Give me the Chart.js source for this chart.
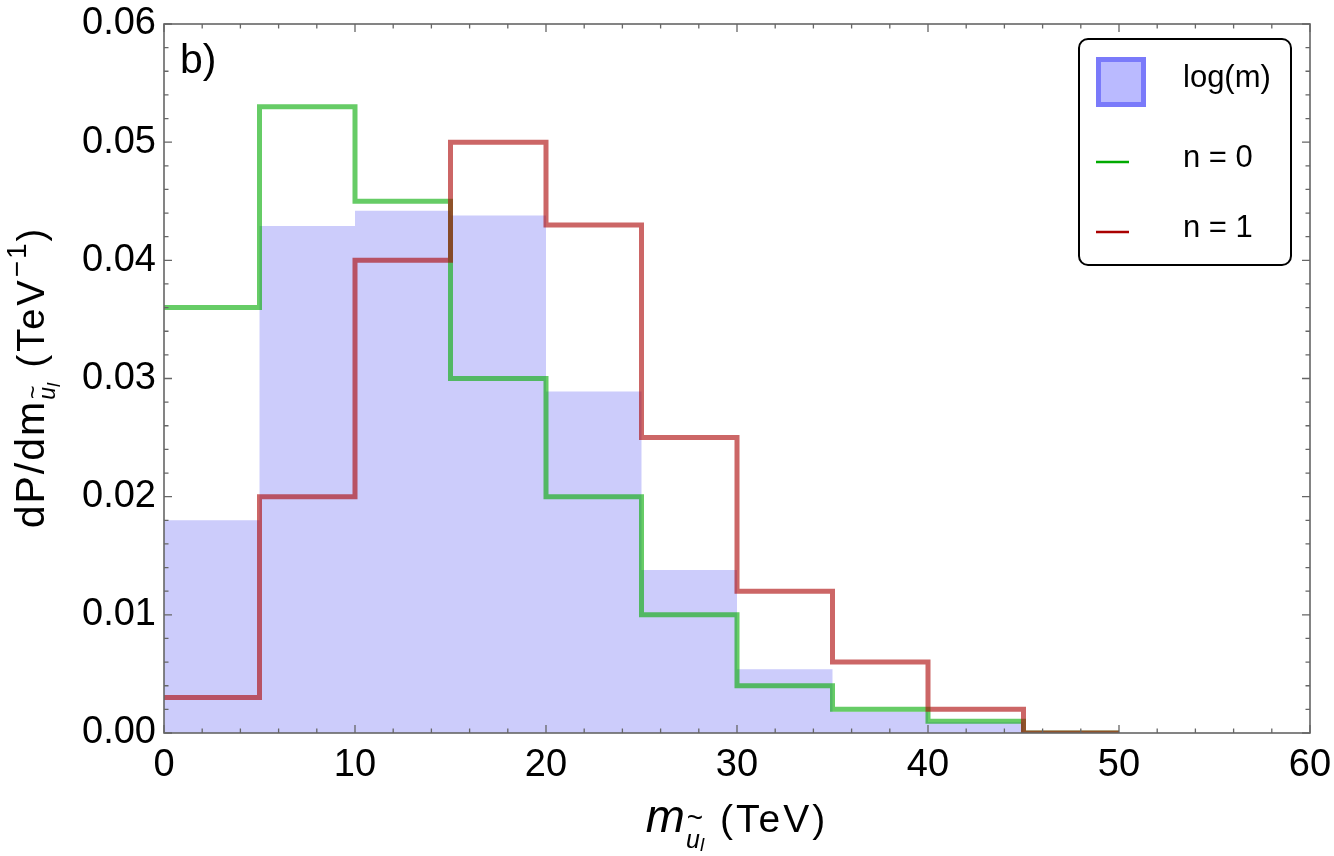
<!DOCTYPE html>
<html>
<head>
<meta charset="utf-8">
<script src="https://cdn.jsdelivr.net/npm/chart.js@4.4.1/dist/chart.umd.min.js"></script>
<style>
  html, body { margin: 0; padding: 0; background: #fff; }
  #wrap { width: 1334px; height: 856px; position: relative; }
</style>
</head>
<body>
<div id="wrap"><canvas id="c" width="1334" height="856"></canvas></div>
<script>
// ---- data ----
const binEdges   = [0, 5, 10, 15, 20, 25, 30, 35, 40, 45, 50];
const logmValues = [0.0180, 0.0429, 0.0442, 0.0438, 0.0289, 0.0138, 0.0054, 0.0018, 0.0009];
const n0Values   = [0.036, 0.053, 0.045, 0.030, 0.020, 0.010, 0.004, 0.002, 0.001, 0.000];
const n1Values   = [0.003, 0.020, 0.040, 0.050, 0.043, 0.025, 0.012, 0.006, 0.002, 0.000];
const seriesLabels = ['log(m)', 'n = 0', 'n = 1'];
const xTickValues = [0, 10, 20, 30, 40, 50, 60];
const yTickValues = [0, 0.01, 0.02, 0.03, 0.04, 0.05, 0.06];
const yTickLabels = ['0.00', '0.01', '0.02', '0.03', '0.04', '0.05', '0.06'];
const panelLabel = 'b)';

const FONT = '"Liberation Sans", Arial, sans-serif';

function stepPoints(vals) {
  const pts = vals.map((v, i) => ({ x: binEdges[i], y: v }));
  pts.push({ x: binEdges[vals.length], y: vals[vals.length - 1] });
  return pts;
}

function drawRich(ctx, parts, cx, baseY) {
  let w = 0;
  let prev = null;
  parts.forEach(p => {
    ctx.font = p.font;
    ctx.letterSpacing = p.ls || '0px';
    if (p.over) { p.anchor = prev; return; }
    p.w = ctx.measureText(p.t).width;
    p.x = w;
    w += p.w + (p.gap || 0);
    prev = p;
  });
  const x0 = cx - w / 2;
  parts.forEach(p => {
    ctx.font = p.font;
    ctx.letterSpacing = p.ls || '0px';
    if (p.over) {
      ctx.textAlign = 'center';
      ctx.fillText(p.t, x0 + p.anchor.x + p.anchor.w / 2 + (p.skew || 0), baseY + p.dy);
      ctx.textAlign = 'left';
    } else {
      ctx.fillText(p.t, x0 + p.x, baseY + (p.dy || 0));
    }
  });
  ctx.letterSpacing = '0px';
}

const decor = {
  id: 'decor',
  afterDatasetsDraw(chart) {
    const ctx = chart.ctx;
    const a = chart.chartArea;
    const xs = chart.scales.x, ys = chart.scales.y;
    ctx.save();
    // frame
    ctx.strokeStyle = '#666';
    ctx.lineWidth = 1.6;
    ctx.strokeRect(a.left, a.top, a.right - a.left, a.bottom - a.top);
    // ticks (inward, on all four sides)
    ctx.lineWidth = 1.3;
    ctx.beginPath();
    for (let i = 0; i <= 30; i++) {
      const px = xs.getPixelForValue(i * 2);
      const len = (i % 5 === 0) ? 8 : 4.5;
      ctx.moveTo(px, a.bottom); ctx.lineTo(px, a.bottom - len);
      ctx.moveTo(px, a.top); ctx.lineTo(px, a.top + len);
    }
    for (let i = 0; i <= 30; i++) {
      const py = ys.getPixelForValue(i * 0.002);
      const len = (i % 5 === 0) ? 8 : 4.5;
      ctx.moveTo(a.left, py); ctx.lineTo(a.left + len, py);
      ctx.moveTo(a.right, py); ctx.lineTo(a.right - len, py);
    }
    ctx.stroke();

    ctx.fillStyle = '#000';
    ctx.textBaseline = 'alphabetic';
    ctx.textAlign = 'left';
    // panel label
    ctx.font = '41px ' + FONT;
    ctx.fillText(panelLabel, a.left + 16, a.top + 49);

    // legend
    const L = a.right - 231, T = a.top + 15, W = 212, H = 226;
    ctx.beginPath();
    ctx.roundRect(L, T, W, H, 9);
    ctx.fillStyle = '#fff';
    ctx.fill();
    ctx.strokeStyle = '#000';
    ctx.lineWidth = 2;
    ctx.stroke();
    // swatch
    ctx.fillStyle = 'rgb(186,186,255)';
    ctx.fillRect(L + 17, T + 18, 50, 50);
    ctx.strokeStyle = 'rgb(122,122,250)';
    ctx.lineWidth = 5;
    ctx.strokeRect(L + 19.5, T + 20.5, 45, 45);
    // legend lines
    ctx.lineWidth = 2.5;
    ctx.strokeStyle = 'rgb(0,170,0)';
    ctx.beginPath(); ctx.moveTo(L + 17, T + 123); ctx.lineTo(L + 50, T + 123); ctx.stroke();
    ctx.strokeStyle = 'rgb(170,0,0)';
    ctx.beginPath(); ctx.moveTo(L + 17, T + 193); ctx.lineTo(L + 50, T + 193); ctx.stroke();
    ctx.fillStyle = '#000';
    ctx.font = '31px ' + FONT;
    ctx.fillText(seriesLabels[0], L + 104, T + 48);
    ctx.fillText(seriesLabels[1], L + 104, T + 128);
    ctx.fillText(seriesLabels[2], L + 104, T + 198);

    // x axis title
    const cx = (a.left + a.right) / 2;
    drawRich(ctx, [
      { t: 'm', font: 'italic 47px ' + FONT, dy: 0, gap: 1 },
      { t: 'u', font: 'italic 25px ' + FONT, dy: 16 },
      { t: '~', font: '28px ' + FONT, dy: -5, over: true, skew: 2 },
      { t: 'l', font: 'italic 19px ' + FONT, dy: 19, gap: 2 },
      { t: ' (TeV)', font: '39px ' + FONT, dy: 0, ls: '3px' }
    ], cx, 832);

    // y axis title (rotated)
    ctx.save();
    ctx.translate(44, (a.top + a.bottom) / 2);
    ctx.rotate(-Math.PI / 2);
    drawRich(ctx, [
      { t: 'dP/dm', font: '41px ' + FONT, dy: 0, ls: '2px' },
      { t: 'u', font: 'italic 23px ' + FONT, dy: 11 },
      { t: '~', font: '23px ' + FONT, dy: -3, over: true, skew: 1 },
      { t: 'l', font: 'italic 18px ' + FONT, dy: 16, gap: 2 },
      { t: ' (TeV', font: '38px ' + FONT, dy: 0, ls: '3px' },
      { t: '\u22121', font: '28px ' + FONT, dy: -18, ls: '2px' },
      { t: ')', font: '38px ' + FONT, dy: 0 }
    ], 0, 0);
    ctx.restore();

    ctx.restore();
  }
};

const chart = new Chart(document.getElementById('c'), {
  type: 'line',
  data: {
    datasets: [
      {
        label: seriesLabels[2],
        data: stepPoints(n1Values),
        stepped: true,
        borderColor: 'rgba(170,0,0,0.6)',
        borderWidth: 5,
        borderJoinStyle: 'miter',
        borderCapStyle: 'butt',
        fill: false,
        pointRadius: 0,
        order: 1,
        clip: { left: 0, top: 5, right: 5, bottom: 0 }
      },
      {
        label: seriesLabels[1],
        data: stepPoints(n0Values),
        stepped: true,
        borderColor: 'rgba(0,170,0,0.6)',
        borderWidth: 5,
        borderJoinStyle: 'miter',
        borderCapStyle: 'butt',
        fill: false,
        pointRadius: 0,
        order: 2,
        clip: { left: 0, top: 5, right: 5, bottom: 0 }
      },
      {
        label: seriesLabels[0],
        data: stepPoints(logmValues),
        stepped: true,
        borderColor: 'transparent',
        borderWidth: 0,
        backgroundColor: 'rgb(204,204,251)',
        fill: 'origin',
        pointRadius: 0,
        order: 3
      }
    ]
  },
  options: {
    responsive: false,
    animation: false,
    devicePixelRatio: 1,
    layout: { padding: { top: 24, right: 24, left: 0, bottom: 0 } },
    plugins: { legend: { display: false }, tooltip: { enabled: false } },
    scales: {
      x: {
        type: 'linear',
        min: 0, max: 60,
        afterBuildTicks: s => { s.ticks = xTickValues.map(v => ({ value: v })); },
        afterFit: s => { s.height = 123; s.paddingLeft = 0; s.paddingRight = 0; },
        grid: { display: false, drawTicks: false },
        border: { display: false },
        ticks: { color: '#000', font: { family: FONT, size: 38 }, padding: 10, maxRotation: 0,
                 callback: v => String(v) }
      },
      y: {
        type: 'linear',
        min: 0, max: 0.06,
        afterBuildTicks: s => { s.ticks = yTickValues.map(v => ({ value: v })); },
        afterFit: s => { s.width = 164; s.paddingTop = 0; s.paddingBottom = 0; },
        grid: { display: false, drawTicks: false },
        border: { display: false },
        ticks: { color: '#000', font: { family: FONT, size: 38 }, padding: 8,
                 callback: (v) => yTickLabels[yTickValues.findIndex(t => Math.abs(t - v) < 1e-9)] }
      }
    }
  },
  plugins: [decor]
});
</script>
</body>
</html>
